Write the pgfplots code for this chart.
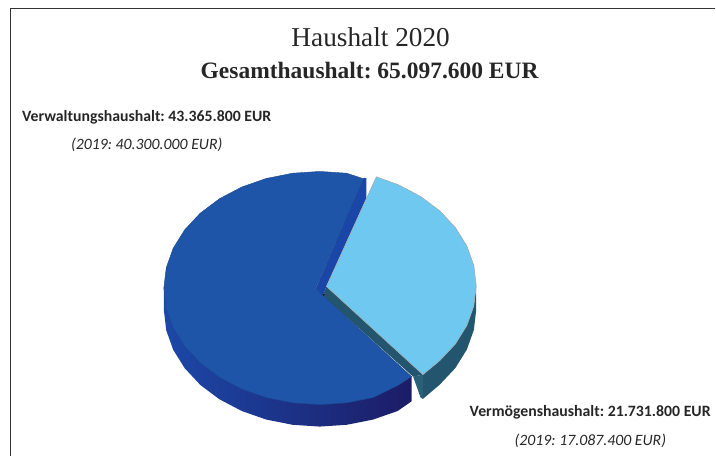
\documentclass[border=0pt]{standalone}
\usepackage{pgfplots}
\pgfplotsset{compat=1.18}
\usepackage{fontspec}
\setmainfont{Liberation Serif}
\newfontfamily\labelfont{Carlito}
\frenchspacing
\definecolor{topdark}{HTML}{1F55A8}
\definecolor{cutdark}{HTML}{1A46A8}
\definecolor{toplight}{HTML}{6EC8F0}
\definecolor{wallteal}{HTML}{23566E}
\definecolor{facetteal}{HTML}{2A6078}
\definecolor{wallleft}{HTML}{1C48A8}
\definecolor{wallmid}{HTML}{1E2E85}
\definecolor{wallright}{HTML}{1C1C66}
\begin{document}
\begin{tikzpicture}
\begin{axis}[
  scale only axis,
  width=716pt, height=456pt,
  xmin=0, xmax=716, ymin=0, ymax=456,
  y dir=reverse,
  hide axis,
  clip=false,
]
% keeps the page at the full size
\addplot[draw=none] coordinates {(0,0) (716,456)};
% frame, top and left only
\addplot[draw=black!80, line width=1.4pt] coordinates {(716,8.5) (10.5,8.5) (10.5,456)};
% teal wall of the light slice
\addplot[draw=none, fill=wallteal] coordinates {
(476.7,286) (476.7,310) (474.3,330.3) (467.3,349.9) (455.8,368.4) (440.2,385) (423.3,399.3)
(423.3,375) (440.2,361) (455.8,344.4) (467.3,325.9) (474.3,306.3) (476.7,286)};
\addplot[draw=none, fill=facetteal] coordinates {
(413.5,377) (423.3,375) (423.3,399.3) (421,398)};
\addplot[draw=none, fill=wallteal] coordinates {
(326.7,286.7) (423.3,375) (413.5,377) (323,296)};
% navy wall of the big slice
\addplot[draw=none, left color=wallleft, middle color=wallmid, right color=wallright] coordinates {
(164,288) (164,310.3) (166.4,330.6) (173.4,350.2) (184.9,368.6) (200.5,385.3) (219.7,399.7)
(242,411.4) (266.6,420) (292.9,425.2) (320,427) (347.1,425.2) (373.4,420) (398,411.4)
(412,401.7) (412,376.7) (320,350) (164,288)};
% cut face of the big slice
\addplot[draw=none, fill=cutdark] coordinates {
(316,289) (364,178) (366.7,178.3) (366.7,198.3) (326.7,286.7) (323,296)};
% top of the big slice
\addplot[draw=topdark!85!black, line width=0.4pt, fill=topdark] coordinates {
(315.7,289) (364,179) (347.1,173.4) (320,171.6) (292.9,173.4) (266.6,178.6) (242,187.2)
(219.7,198.9) (200.5,213.3) (184.9,230) (173.4,248.4) (166.4,268) (164,288.3)
(166.4,308.6) (173.4,328.2) (184.9,346.6) (200.5,363.3) (219.7,377.7) (242,389.4)
(266.6,398) (292.9,403.2) (320,405) (347.1,403.2) (373.4,398) (398,386) (412,377)
(323.3,296) (315.7,289)};
% top of the light slice
\addplot[draw=gray!70, line width=0.5pt, fill=toplight] coordinates {
(326.7,286.7) (376.7,177) (398.7,184.9) (421,196.6) (440.2,211) (455.8,227.7) (467.3,246.1)
(474.3,265.7) (476.7,286) (474.3,306.3) (467.3,325.9) (455.8,344.4) (440.2,361) (423.3,375) (326.7,286.7)};
% dot at the centre
\addplot[only marks, mark=*, mark size=0.7pt, mark options={draw=none, fill=gray!60}] coordinates {(324,295)};
% texts
\node[font=\fontsize{27.3}{30}\selectfont, text=black!85] at (axis cs:371,37) {Haushalt 2020};
\node[font=\fontsize{23.5}{27}\selectfont\bfseries, text=black!85] at (axis cs:370,71) {Gesamthaushalt: 65.097.600 EUR};
\node[font=\labelfont\fontsize{15.8}{18}\selectfont\bfseries, text=black!85, anchor=west, inner sep=0pt] at (axis cs:22,117) {Verwaltungshaushalt: 43.365.800 EUR};
\node[font=\labelfont\fontsize{15.8}{18}\selectfont\itshape, text=black!85, anchor=west, inner sep=0pt] at (axis cs:71,145) {(2019: 40.300.000 EUR)};
\node[font=\labelfont\fontsize{15.8}{18}\selectfont\bfseries, text=black!85, anchor=west, inner sep=0pt] at (axis cs:470,413) {Vermögenshaushalt: 21.731.800 EUR};
\node[font=\labelfont\fontsize{15.8}{18}\selectfont\itshape, text=black!85, anchor=west, inner sep=0pt] at (axis cs:515,441) {(2019: 17.087.400 EUR)};
\end{axis}
\end{tikzpicture}
\end{document}
